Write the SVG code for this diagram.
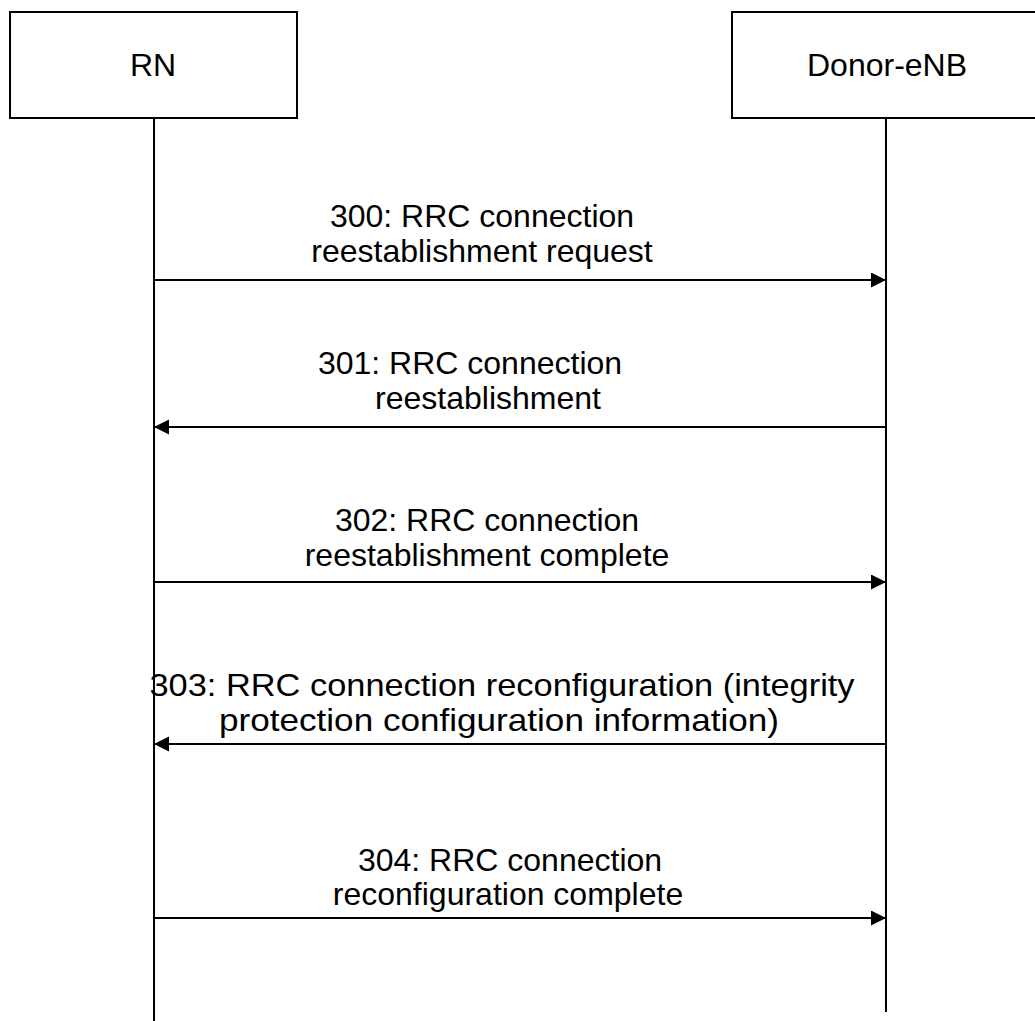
<svg xmlns="http://www.w3.org/2000/svg" width="1035" height="1021" viewBox="0 0 1035 1021">
<style>
.box{fill:#fff;stroke:#000;stroke-width:2}
.life{stroke:#000;stroke-width:2}
.msg{stroke:#000;stroke-width:2;fill:none}
.t{font-family:"Liberation Sans",Arial,sans-serif;font-size:32px;fill:#000;text-anchor:middle}
.n{font-family:"Liberation Sans",Arial,sans-serif;font-size:32px;fill:#000;text-anchor:middle}
</style>
<defs>
<marker id="ah" markerWidth="16" markerHeight="16" refX="15" refY="7.5" orient="auto" markerUnits="userSpaceOnUse">
<path d="M0,0 L15,7.5 L0,15 Z" fill="#000"/>
</marker>
</defs>
<rect width="1035" height="1021" fill="#fff"/>
<g id="node-rn">
<rect class="box" x="10" y="12" width="287" height="106"/>
<text class="n" x="153" y="76">RN</text>
<line class="life" x1="154" y1="118" x2="154" y2="1021"/>
</g>
<g id="node-donor">
<rect class="box" x="732" y="12" width="320" height="106"/>
<text class="n" x="887" y="76">Donor-eNB</text>
<line class="life" x1="886" y1="118" x2="886" y2="1012"/>
</g>
<g id="connectors">
<line class="msg" x1="154" y1="280" x2="886" y2="280" marker-end="url(#ah)"/>
<line class="msg" x1="886" y1="427" x2="154" y2="427" marker-end="url(#ah)"/>
<line class="msg" x1="154" y1="582" x2="886" y2="582" marker-end="url(#ah)"/>
<line class="msg" x1="886" y1="744" x2="154" y2="744" marker-end="url(#ah)"/>
<line class="msg" x1="154" y1="918" x2="886" y2="918" marker-end="url(#ah)"/>
</g>
<g id="labels">
<text class="t" x="482" y="227">300: RRC connection</text>
<text class="t" x="482" y="262">reestablishment request</text>
<text class="t" x="470" y="374">301: RRC connection</text>
<text class="t" x="488" y="409">reestablishment</text>
<text class="t" x="487" y="531">302: RRC connection</text>
<text class="t" x="487" y="566">reestablishment complete</text>
<text class="t" x="502" y="696" textLength="705" lengthAdjust="spacingAndGlyphs">303: RRC connection reconfiguration (integrity</text>
<text class="t" x="499" y="731" textLength="560" lengthAdjust="spacingAndGlyphs">protection configuration information)</text>
<text class="t" x="510" y="871">304: RRC connection</text>
<text class="t" x="508" y="905">reconfiguration complete</text>
</g>
</svg>
